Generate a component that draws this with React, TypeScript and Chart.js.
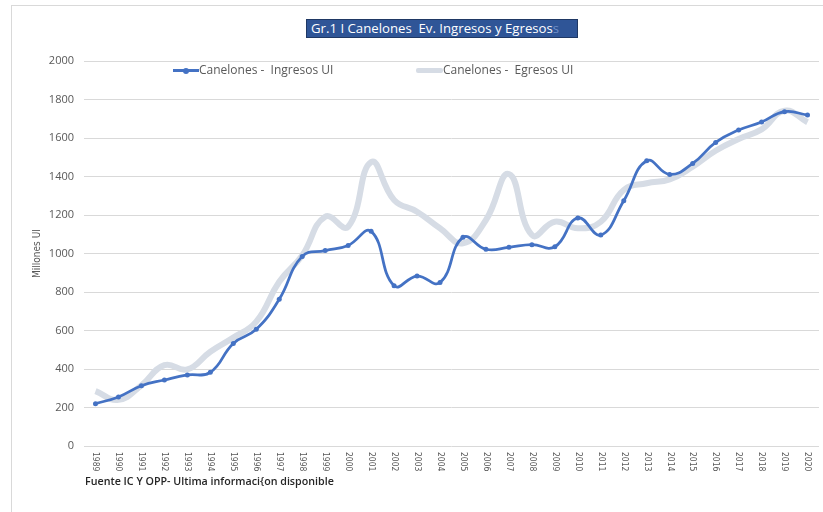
import React, { useEffect, useRef } from "react";
import { Chart, registerables } from "chart.js";

Chart.register(...registerables);

const years = [
  "1989", "1990", "1991", "1992", "1993", "1994", "1995", "1996", "1997", "1998", "1999",
  "2000", "2001", "2002", "2003", "2004", "2005", "2006", "2007", "2008", "2009", "2010",
  "2011", "2012", "2013", "2014", "2015", "2016", "2017", "2018", "2019", "2020",
];

const ingresos = [
  220, 255, 313, 343, 369, 383, 533, 606, 762, 985, 1015,
  1042, 1115, 833, 883, 849, 1084, 1022, 1032, 1046, 1035, 1185,
  1096, 1274, 1482, 1411, 1468, 1577, 1641, 1683, 1737, 1719,
];

const egresos = [
  285, 240, 315, 420, 398, 490, 563, 646, 853, 990, 1191,
  1139, 1475, 1278, 1217, 1131, 1053, 1174, 1413, 1096, 1165, 1131,
  1165, 1330, 1365, 1385, 1451, 1534, 1595, 1645, 1742, 1682,
];

const yMin = 0;
const yMax = 2000;
const yStep = 200;

const titleText = "Gr.1 I Canelones  Ev. Ingresos y Egresos";
const seriesNames = ["Canelones -  Ingresos UI", "Canelones -  Egresos UI"];
const yTitle = "Millones UI";
const footerText = "Fuente IC Y OPP- Ultima informaci{on disponible";

const BLUE = "#4472C4";
const GRAY = "#D6DCE5";
const TEXT = "#595959";
const FONT = '"Open Sans", Lato, sans-serif';
const COND = '"DejaVu Sans Condensed", "DejaVu Sans", sans-serif';

const xLabelPlugin = {
  id: "xLabelsDown",
  afterDraw(chart: any) {
    const { ctx, scales, chartArea } = chart;
    const xs = scales.x;
    ctx.save();
    ctx.font = `8.5px ${COND}`;
    ctx.fillStyle = TEXT;
    ctx.textAlign = "left";
    ctx.textBaseline = "middle";
    years.forEach((label, i) => {
      const px = xs.getPixelForValue(i);
      ctx.save();
      ctx.translate(px, chartArea.bottom + 6);
      ctx.rotate(Math.PI / 2);
      ctx.fillText(label, 0, 0);
      ctx.restore();
    });
    ctx.restore();
  },
};

export default function App() {
  const ref = useRef<HTMLCanvasElement>(null);

  useEffect(() => {
    if (!ref.current) return;
    const chart = new Chart(ref.current, {
      type: "line",
      data: {
        labels: years,
        datasets: [
          {
            label: seriesNames[0],
            data: ingresos,
            borderColor: BLUE,
            backgroundColor: BLUE,
            pointBackgroundColor: BLUE,
            pointBorderColor: BLUE,
            borderWidth: 2.75,
            pointRadius: 2.5,
            pointBorderWidth: 0,
            tension: 0.45,
          },
          {
            label: seriesNames[1],
            data: egresos,
            borderColor: GRAY,
            backgroundColor: GRAY,
            borderWidth: 6,
            pointRadius: 0,
            tension: 0.45,
          },
        ],
      },
      options: {
        responsive: false,
        animation: false,
        layout: { padding: { top: 61, right: 4, left: 0, bottom: 0 } },
        plugins: {
          legend: { display: false },
          title: { display: false },
          tooltip: { enabled: false },
        },
        scales: {
          x: {
            offset: true,
            grid: { display: false },
            border: { display: false },
            ticks: { display: false },
            afterFit: (s: any) => {
              s.height = 66;
            },
          },
          y: {
            min: yMin,
            max: yMax,
            ticks: {
              stepSize: yStep,
              color: TEXT,
              font: { family: FONT, size: 11 },
              padding: 10,
              callback: (v: any) => String(v),
            },
            grid: { color: "#D9D9D9", drawTicks: false, lineWidth: 1 },
            border: { display: false },
            title: {
              display: true,
              text: yTitle,
              color: TEXT,
              font: { family: COND, size: 10 },
              padding: { top: 31, bottom: 0 },
            },
            afterFit: (s: any) => {
              s.width = 84;
            },
          },
        },
      },
      plugins: [xLabelPlugin],
    });
    return () => chart.destroy();
  }, []);

  const abs = (o: React.CSSProperties): React.CSSProperties => ({ position: "absolute", ...o });

  return (
    <div
      style={{
        position: "fixed",
        left: 0,
        top: 0,
        width: 823,
        height: 512,
        background: "#fff",
        overflow: "hidden",
        fontFamily: FONT,
      }}
    >
      <div
        style={abs({
          left: 11,
          top: 5,
          right: -2,
          bottom: -2,
          borderLeft: "1px solid #D9D9D9",
          borderTop: "1px solid #D9D9D9",
        })}
      />
      <canvas ref={ref} width={823} height={512} style={abs({ left: 0, top: 0, display: "block" })} />
      <div
        style={abs({
          left: 306,
          top: 19,
          width: 266,
          height: 17,
          background: "#2F5597",
          border: "1px solid #1F3864",
          color: "#fff",
          fontSize: 13.2,
          lineHeight: "17px",
          paddingLeft: 4,
          whiteSpace: "pre",
          overflow: "hidden",
        })}
      >
        {titleText}
        <span style={{ color: "#6F8FC8" }}>s</span>
      </div>
      <div style={abs({ left: 173, top: 69, width: 26, height: 3, background: BLUE })} />
      <div style={abs({ left: 183, top: 67.5, width: 6, height: 6, borderRadius: 3, background: BLUE })} />
      <div style={abs({ left: 199, top: 63, fontSize: 12, color: TEXT, whiteSpace: "pre", lineHeight: "14px" })}>
        {seriesNames[0]}
      </div>
      <div style={abs({ left: 416, top: 68, width: 27, height: 5, borderRadius: 2, background: GRAY })} />
      <div style={abs({ left: 443, top: 63, fontSize: 12, color: TEXT, whiteSpace: "pre", lineHeight: "14px" })}>
        {seriesNames[1]}
      </div>
      <div style={abs({ left: 85, top: 475, fontSize: 10.7, color: "#262626", fontWeight: 600, whiteSpace: "pre", lineHeight: "13px" })}>
        {footerText}
      </div>
    </div>
  );
}
